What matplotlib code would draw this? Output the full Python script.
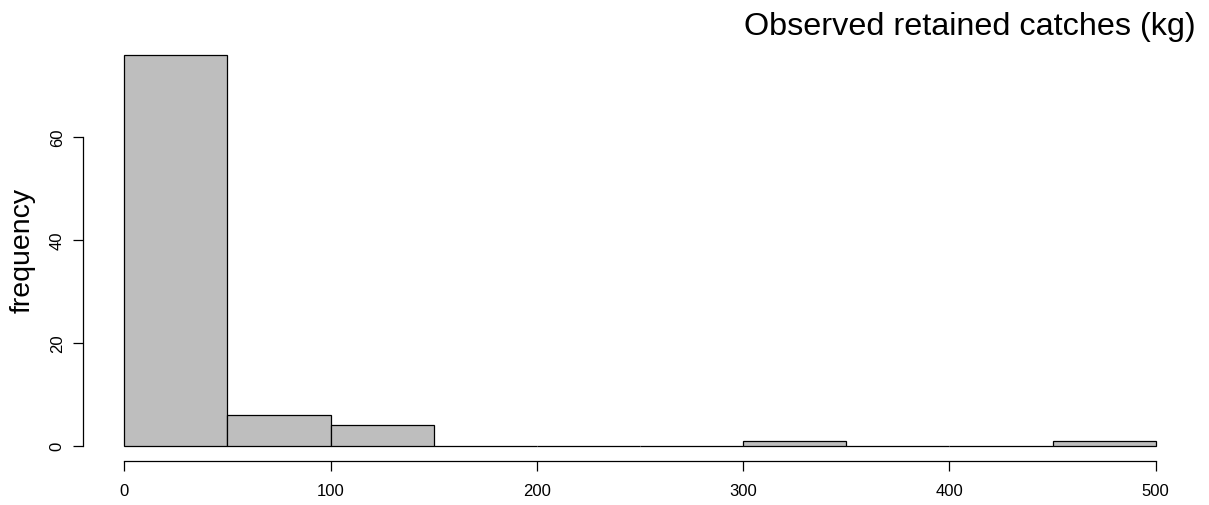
import numpy as np
import matplotlib.pyplot as plt

plt.rcParams['font.family'] = ['Liberation Sans', 'DejaVu Sans']

# histogram of retained catches, 50 kg bins
bin_edges = [0, 50, 100, 150, 200, 250, 300, 350, 400, 450, 500]
counts = [76, 6, 4, 0, 0, 0, 1, 0, 0, 1]
x_ticks = [0, 100, 200, 300, 400, 500]
y_ticks = [0, 20, 40, 60]

W, H = 1209, 506
fig = plt.figure(figsize=(W / 100, H / 100), dpi=100)
ax = fig.add_axes([83 / W, 1 - 462.3 / H, (1197 - 83) / W, (462.3 - 40) / H])

lefts = np.array(bin_edges[:-1])
widths = np.diff(bin_edges)
ax.bar(lefts, counts, width=widths, align='edge', color='#bebebe',
       edgecolor='black', linewidth=0.9)

# R-style expanded ranges
ax.set_xlim(-20, 520)
ax.set_ylim(-0.04 * max(counts), 1.04 * max(counts))

for s in ['top', 'right']:
    ax.spines[s].set_visible(False)
ax.spines['left'].set_bounds(y_ticks[0], y_ticks[-1])
ax.spines['bottom'].set_bounds(x_ticks[0], x_ticks[-1])
for s in ['left', 'bottom']:
    ax.spines[s].set_linewidth(0.9)

ax.set_xticks(x_ticks)
ax.set_yticks(y_ticks)
ax.tick_params(axis='both', length=7.2, width=0.9, labelsize=12)
ax.tick_params(axis='x', pad=8.5)
ax.tick_params(axis='y', pad=6)
for lab in ax.get_yticklabels():
    lab.set_rotation(90)
    lab.set_va('center')

fig.text(23 / W, 1 - 250 / H, 'frequency', rotation=90, fontsize=20.5,
         ha='center', va='center')
fig.text(1196 / W, 1 - 35 / H, 'Observed retained catches (kg)',
         fontsize=23.3, ha='right', va='baseline')

fig.savefig('out.png', dpi=100)
